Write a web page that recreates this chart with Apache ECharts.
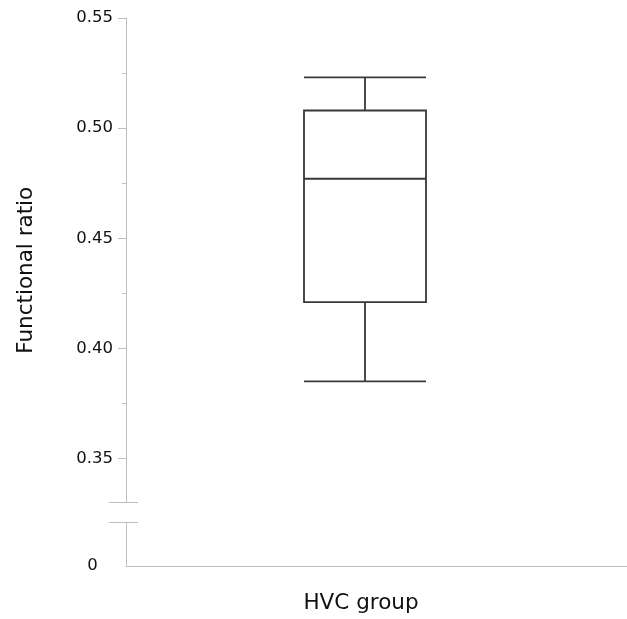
<!DOCTYPE html>
<html>
<head>
<meta charset="utf-8">
<script src="https://cdn.jsdelivr.net/npm/echarts@6/dist/echarts.min.js"></script>
<style>html,body{margin:0;padding:0;background:#fff}#c{width:627px;height:619px}</style>
</head>
<body>
<div id="c"></div>
<script>
// Data
const categories = ['HVC group'];
const boxMin = [0.385];
const boxQ1 = [0.421];
const boxMedian = [0.477];
const boxQ3 = [0.508];
const boxMax = [0.523];
const majorTicks = [0.35, 0.40, 0.45, 0.50, 0.55];
const minorTicks = [0.375, 0.425, 0.475, 0.525];
const lowerTicks = [0];

const boxData = categories.map((c, i) => [boxMin[i], boxQ1[i], boxMedian[i], boxQ3[i], boxMax[i]]);

const axisGray = '#bfbfbf';
const font = 'DejaVu Sans';

const chart = echarts.init(document.getElementById('c'), null, {renderer: 'canvas'});
chart.setOption({
  animation: false,
  backgroundColor: '#fff',
  grid: [
    {left: 126, right: 23, top: 18, height: 484.5},
    {left: 126, right: 0, top: 522, bottom: 53}
  ],
  xAxis: [
    {
      type: 'category', gridIndex: 0, data: categories,
      axisLine: {show: false}, axisTick: {show: false}, splitLine: {show: false},
      axisLabel: {margin: 90, fontFamily: font, fontSize: 21.5, color: '#111', padding: [0, 8, 0, 0]}
    },
    {
      type: 'value', gridIndex: 1, min: 0, max: 1,
      axisLine: {show: true, lineStyle: {color: axisGray, width: 1}},
      axisTick: {show: false}, axisLabel: {show: false}, splitLine: {show: false}
    }
  ],
  yAxis: [
    {
      type: 'value', gridIndex: 0, min: 0.33, max: 0.55,
      name: 'Functional ratio', nameLocation: 'middle', nameGap: 89,
      nameTextStyle: {fontFamily: font, fontSize: 21.5, color: '#111', padding: [0, 20, 0, 0]},
      axisLine: {show: true, lineStyle: {color: axisGray, width: 1}},
      axisTick: {show: true, length: 8, customValues: majorTicks, lineStyle: {color: axisGray}},
      axisLabel: {customValues: majorTicks, margin: 13, fontFamily: font, fontSize: 16.5, color: '#111',
        formatter: v => v.toFixed(2)},
      splitLine: {show: false}
    },
    {
      type: 'value', gridIndex: 0, min: 0.33, max: 0.55, position: 'left',
      axisLine: {show: false},
      axisTick: {show: true, length: 4, customValues: minorTicks, lineStyle: {color: axisGray}},
      axisLabel: {show: false}, splitLine: {show: false}
    },
    {
      type: 'value', gridIndex: 1, min: 0, max: 1,
      axisLine: {show: true, lineStyle: {color: axisGray, width: 1}},
      axisTick: {show: false},
      axisLabel: {customValues: lowerTicks, align: 'center', margin: 33.5, fontFamily: font, fontSize: 16.5, color: '#111',
        padding: [4, 0, 0, 0], formatter: v => String(v)},
      splitLine: {show: false}
    }
  ],
  graphic: [
    {type: 'line', shape: {x1: 109, y1: 502.5, x2: 138, y2: 502.5}, style: {stroke: axisGray, lineWidth: 1}},
    {type: 'line', shape: {x1: 109, y1: 522.5, x2: 138, y2: 522.5}, style: {stroke: axisGray, lineWidth: 1}}
  ],
  series: [{
    type: 'boxplot', xAxisIndex: 0, yAxisIndex: 0,
    data: boxData,
    boxWidth: [122, 122],
    itemStyle: {color: '#fff', borderColor: '#383838', borderWidth: 1.8},
    emphasis: {disabled: true}
  }]
});
</script>
</body>
</html>
